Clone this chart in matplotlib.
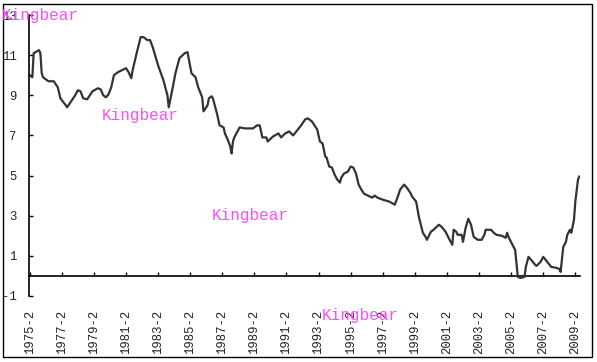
import matplotlib
matplotlib.use("Agg")
import matplotlib.pyplot as plt
from matplotlib.patches import Rectangle

# month index from 1975-02 (0) and values
months = [0, 2, 3, 7, 8, 9, 10, 14, 18, 21, 23, 27, 28, 31, 34, 36, 38, 40, 43, 47,
          51, 53, 55, 57, 59, 61, 63, 66, 69, 72, 74, 76, 77, 80, 83, 85, 88, 90, 92, 96,
          100, 103, 104, 107, 109, 112, 116, 118, 121, 124, 126, 129, 130, 133, 134, 136, 137, 140, 142, 145,
          146, 148, 150, 151, 152, 153, 157, 161, 165, 167, 170, 172, 174, 177, 178, 182, 186, 188, 191, 194,
          197, 200, 203, 206, 208, 211, 213, 215, 217, 219, 221, 222, 224, 226, 228, 230, 232, 233, 235, 238,
          240, 242, 244, 246, 248, 250, 253, 256, 258, 260, 264, 269, 273, 275, 277, 280, 282, 285, 286, 289,
          291, 294, 296, 297, 300, 302, 306, 308, 311, 314, 316, 317, 319, 320, 323, 324, 326, 328, 330, 332,
          335, 338, 340, 341, 345, 347, 349, 353, 356, 357, 358, 361, 363, 364, 365, 367, 370, 371, 373, 375,
          378, 379, 382, 384, 387, 390, 394, 396, 397, 399, 401, 402, 404, 405, 407, 408, 410, 411]
values = [10.0, 9.9, 11.1, 11.25, 11.1, 10.1, 9.9, 9.7, 9.7, 9.4, 8.85, 8.5, 8.4, 8.7, 9.0, 9.25, 9.2, 8.85, 8.8, 9.2,
          9.35, 9.3, 9.0, 8.9, 9.05, 9.4, 10.0, 10.15, 10.25, 10.35, 10.15, 9.85, 10.25, 11.1, 11.9, 11.9, 11.75, 11.75, 11.4, 10.5,
          9.75, 9.0, 8.4, 9.4, 10.1, 10.85, 11.1, 11.15, 10.1, 9.9, 9.4, 8.9, 8.2, 8.5, 8.85, 8.95, 8.85, 8.1, 7.5, 7.4,
          7.1, 6.8, 6.45, 6.1, 6.7, 6.9, 7.4, 7.35, 7.35, 7.35, 7.5, 7.5, 6.9, 6.9, 6.7, 6.95, 7.1, 6.9, 7.1, 7.2,
          7.0, 7.25, 7.5, 7.8, 7.85, 7.7, 7.5, 7.3, 6.7, 6.6, 5.95, 5.9, 5.45, 5.4, 5.05, 4.8, 4.65, 4.9, 5.1, 5.2,
          5.45, 5.4, 5.1, 4.55, 4.3, 4.1, 4.0, 3.9, 4.0, 3.9, 3.8, 3.7, 3.55, 3.9, 4.3, 4.55, 4.4, 4.1, 3.95, 3.7,
          2.95, 2.15, 1.95, 1.8, 2.2, 2.3, 2.55, 2.45, 2.2, 1.8, 1.55, 2.3, 2.2, 2.05, 2.05, 1.7, 2.4, 2.85, 2.55, 1.95,
          1.8, 1.8, 2.05, 2.3, 2.3, 2.15, 2.05, 2.0, 1.9, 2.15, 1.95, 1.55, 1.3, 0.65, -0.05, -0.1, -0.05, 0.45, 0.95, 0.8,
          0.55, 0.5, 0.7, 0.95, 0.7, 0.45, 0.4, 0.35, 0.2, 1.45, 1.7, 2.05, 2.3, 2.15, 2.8, 3.7, 4.8, 4.95]

tick_labels = ["1975-2", "1977-2", "1979-2", "1981-2", "1983-2", "1985-2", "1987-2", "1989-2", "1991-2",
               "1993-2", "1995-2", "1997-2", "1999-2", "2001-2", "2003-2", "2005-2", "2007-2", "2009-2"]
tick_months = [24 * i for i in range(len(tick_labels))]
y_ticks = [-1, 1, 3, 5, 7, 9, 11, 13]

W, H = 597, 362
fig = plt.figure(figsize=(W / 100, H / 100), dpi=100)
fig.patch.set_facecolor("white")
ax = fig.add_axes([29 / W, 1 - 296 / H, (580 - 29) / W, (296 - 15) / H])
ax.set_facecolor("white")

ax.plot(months, values, color="#333333", lw=1.6, solid_joinstyle="round")

ymin, ymax = -1, 13
ax.set_ylim(ymin, ymax)
ax.set_xlim(-0.5, 411.5)
ax.set_yticks(y_ticks)
ax.set_yticklabels([str(v) for v in y_ticks])
ax.tick_params(axis="y", direction="in", length=3, width=1, pad=9,
               labelsize=8.8, labelcolor="#222222")

for s in ["top", "right", "bottom"]:
    ax.spines[s].set_visible(False)
ax.spines["left"].set_linewidth(1.2)

ax.set_xticks(tick_months)
ax.set_xticklabels(tick_labels, rotation=90, fontsize=8.8, color="#222222")
ax.tick_params(axis="x", length=0, pad=10)

for lab in ax.get_xticklabels() + ax.get_yticklabels():
    lab.set_family(["Liberation Mono", "DejaVu Sans Mono"])

sec = ax.secondary_xaxis((0 - ymin) / (ymax - ymin))
sec.set_xticks(tick_months)
sec.tick_params(axis="x", direction="in", length=3, width=1, labelbottom=False, labeltop=False)
sec.spines["bottom"].set_linewidth(1.2)
sec.spines["bottom"].set_color("black")

# outer frame
fig.patches.append(Rectangle((2.5 / W, 1 - 356.5 / H), (592 - 2.5) / W, (356.5 - 3.5) / H,
                             transform=fig.transFigure, fill=False, edgecolor="black", lw=1))

wm_pos = [(2, 20), (102, 120), (212, 220), (322, 320)]
for (px, py) in wm_pos:
    fig.text(px / W, 1 - py / H, "Kingbear", color="#ff4dff", fontsize=11.5,
             family=["Liberation Mono", "DejaVu Sans Mono"], ha="left", va="baseline", zorder=10)

fig.savefig("out.png", dpi=100, facecolor="white")
